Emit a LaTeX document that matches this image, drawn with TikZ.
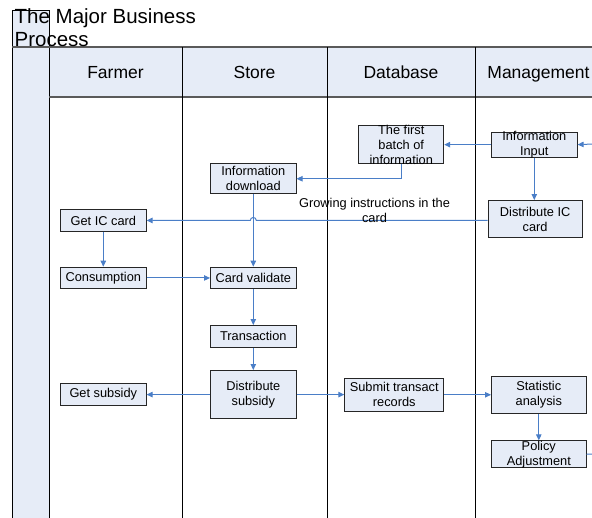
\documentclass[tikz,border=0pt]{standalone}
\usepackage{fontspec}
\setmainfont{Liberation Sans}
\usetikzlibrary{arrows.meta,calc}
\definecolor{lanefill}{RGB}{230,236,247}
\definecolor{boxfill}{RGB}{230,236,247}
\definecolor{flowc}{RGB}{74,126,199}
\definecolor{hdrline}{RGB}{90,90,90}
\newcommand\mybox[6]{%
  \node[box, minimum width=#4pt, minimum height=#5pt] (#1) at (#2,#3) {};
  \node[boxtxt] (#1t) at (#1.center) {#6};
}
\begin{document}
\begin{tikzpicture}[x=1pt,y=-1pt,
  box/.style={draw=black!85, fill=boxfill, line width=0.9pt, inner sep=0pt, anchor=north west},
  boxtxt/.style={inner sep=0pt, align=center, font=\fontsize{12.8}{15}\selectfont},
  hdr/.style={inner sep=0pt, anchor=base, font=\fontsize{17.5}{20}\selectfont},
  ttl/.style={inner sep=0pt, anchor=base west, font=\fontsize{20.5}{23}\selectfont},
  lbl/.style={inner sep=0pt, align=center, font=\fontsize{12.8}{15.5}\selectfont},
  flow/.style={draw=flowc, line width=1pt, -{Triangle[length=6pt,width=5.5pt]}},
  flowline/.style={draw=flowc, line width=1pt},
  divider/.style={draw=black, line width=1pt},
  hline/.style={draw=hdrline, line width=1.2pt}]
\useasboundingbox (0,0) rectangle (592,517);
\clip (0,0) rectangle (592,517);
% lane band and header
\fill[lanefill] (12,10) rectangle (49,520);
\fill[lanefill] (49,47) rectangle (595,97);
\draw[divider] (12,520) -- (12,10) -- (49,10) -- (49,520);
\draw[hline] (12,47) -- (595,47);
\draw[hline] (49,97) -- (595,97);
\draw[divider] (182,47) -- (182,520);
\draw[divider] (327,47) -- (327,520);
\draw[divider] (475,47) -- (475,520);
% headers
\node[hdr] (hfarmer) at (115.5,78) {Farmer};
\node[hdr] (hstore) at (254.5,78) {Store};
\node[hdr] (hdb) at (401,78) {Database};
\node[hdr] (hmgmt) at (538.5,78) {Management};
% title
\node[ttl] (title1) at (14.5,23.5) {The Major Business};
\node[ttl] (title2) at (14.5,46.5) {Process};
% boxes
\mybox{ffb}{358.3}{125}{85}{38.3}{The first\\batch of\\information}
\mybox{iin}{491}{131.7}{85.7}{25}{Information\\Input}
\mybox{fdl}{210}{163.3}{85.7}{30}{Information\\download}
\mybox{dic}{487.7}{200}{94}{37.3}{Distribute IC\\card}
\mybox{gic}{60}{209.3}{85.7}{21.4}{Get IC card}
\mybox{con}{60}{266.7}{85.7}{21.6}{Consumption}
\mybox{cva}{210}{266.7}{85.7}{21.6}{Card validate}
\mybox{trn}{210}{325}{85.7}{21.7}{Transaction}
\mybox{dsu}{210}{370}{85.7}{48.3}{Distribute\\subsidy}
\mybox{gsu}{60}{383.3}{85.7}{21.7}{Get subsidy}
\mybox{str}{344.3}{377.7}{99}{33.3}{Submit transact\\records}
\mybox{sta}{491}{376}{94.7}{36.7}{Statistic\\analysis}
\mybox{pol}{491}{440.3}{94.7}{27}{Policy\\Adjustment}
% connectors
\coordinate (inR) at (593,144);
\coordinate (outR) at (593,454);
\draw[flow] (inR) -- (iin.east);
\draw[flow] (iin.west) -- (ffb.east |- iin.west);
\draw[flow] (ffb.south) |- (fdl.east);
\draw[flow] (iin.south) -- (iin.south |- dic.north);
\draw[flow] (dic.west |- gic.east) -- ($(fdl.south |- gic.east)+(3,0)$) arc[start angle=0,end angle=180,radius=3pt] -- (gic.east);
\draw[flow] (fdl.south) -- (cva.north);
\draw[flow] (gic.south) -- (con.north);
\draw[flow] (con.east) -- (cva.west);
\draw[flow] (cva.south) -- (trn.north);
\draw[flow] (trn.south) -- (dsu.north);
\draw[flow] (dsu.west) -- (gsu.east);
\draw[flow] (dsu.east) -- (str.west |- dsu.east);
\draw[flow] (str.east) -- (sta.west |- str.east);
\draw[flow] (sta.south) -- (pol.north);
\draw[flowline] (pol.east) -- (outR);
% label
\node[lbl] (gil) at (374.5,210.5) {Growing instructions in the\\card};
\end{tikzpicture}
\end{document}
